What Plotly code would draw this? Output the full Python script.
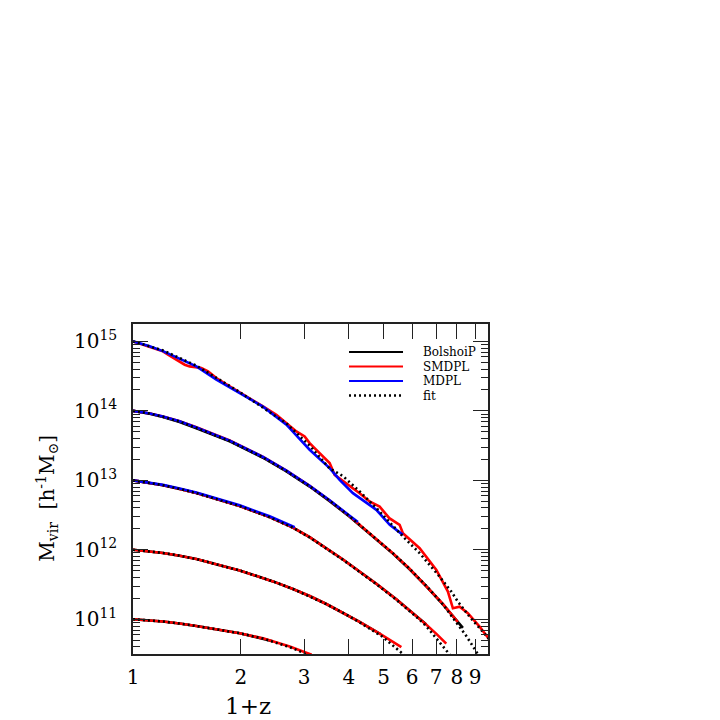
import plotly.graph_objects as go

# ---------------- data: (1+z) and log10(Mvir / h^-1 Msun) ----------------
# M0 = 1e15
top_mdpl_z1 = [1.0, 1.113, 1.212, 1.349, 1.502, 1.708, 1.984, 2.304, 2.678, 3.109, 3.535, 3.769, 4.105, 4.771, 5.2, 5.658]
top_mdpl_lm = [15.0, 14.93, 14.86, 14.75, 14.64, 14.45, 14.255, 14.06, 13.80, 13.44, 13.176, 13.007, 12.815, 12.575, 12.36, 12.215]
top_smdpl_z1 = [1.0, 1.137, 1.212, 1.252, 1.293, 1.349, 1.394, 1.439, 1.502, 1.551, 1.619, 1.708, 1.861, 2.026, 2.115,
                2.304, 2.511, 2.678, 2.855, 3.011, 3.109, 3.315, 3.535, 3.650, 3.936, 4.285, 4.567, 4.873, 5.185,
                5.541, 5.658, 6.300, 7.015, 7.554, 7.800, 8.144, 8.587, 9.258, 9.9]
top_smdpl_lm = [15.0, 14.905, 14.856, 14.808, 14.761, 14.712, 14.664, 14.640, 14.631, 14.617, 14.568, 14.473, 14.352,
                14.232, 14.184, 14.063, 13.944, 13.824, 13.703, 13.631, 13.536, 13.392, 13.248, 13.079, 12.960,
                12.815, 12.695, 12.622, 12.455, 12.359, 12.239, 12.023, 11.710, 11.398, 11.158, 11.182, 11.087,
                10.893, 10.70]
top_fit_z1 = [1.0, 1.212, 1.502, 1.984, 2.678, 3.109, 3.535, 3.851, 4.285, 4.771, 5.721, 6.300, 7.161, 7.720, 8.054, 8.683, 9.456, 9.9]
top_fit_lm = [15.0, 14.87, 14.65, 14.27, 13.82, 13.50, 13.17, 13.06, 12.84, 12.60, 12.167, 11.951, 11.614, 11.398, 11.254, 11.037, 10.821, 10.70]

# M0 = 1e14
m14_bolshoi_z1 = [1.0, 1.113, 1.212, 1.349, 1.502, 1.861, 2.304, 2.678, 3.109, 3.535, 4.019, 4.771, 5.306, 5.907, 6.577, 7.315, 7.800, 8.317]
m14_bolshoi_lm = [14.0, 13.96, 13.912, 13.84, 13.75, 13.56, 13.325, 13.128, 12.91, 12.70, 12.475, 12.155, 11.945, 11.72, 11.475, 11.215, 11.05, 10.875]
m14_smdpl_z1 = [1.0, 1.113, 1.212, 1.349, 1.502, 1.861, 2.304, 2.678, 3.109, 3.535, 4.019, 4.771, 5.306, 5.907, 6.577, 7.315, 8.05]
m14_smdpl_lm = [14.0, 13.962, 13.918, 13.852, 13.765, 13.575, 13.338, 13.14, 12.92, 12.71, 12.483, 12.16, 11.95, 11.727, 11.48, 11.221, 10.96]
m14_mdpl_z1 = [1.0, 1.113, 1.212, 1.349, 1.502, 1.861, 2.304, 2.678, 3.109, 3.535, 4.019, 4.24]
m14_mdpl_lm = [14.0, 13.962, 13.918, 13.85, 13.762, 13.572, 13.336, 13.138, 12.92, 12.712, 12.49, 12.40]
m14_fit_z1 = [1.0, 1.113, 1.212, 1.349, 1.502, 1.861, 2.304, 2.678, 3.109, 3.535, 4.019, 4.771, 5.306, 5.907, 6.577, 7.315, 7.972, 8.501, 9.024, 9.3]
m14_fit_lm = [14.0, 13.96, 13.914, 13.845, 13.755, 13.565, 13.33, 13.131, 12.914, 12.707, 12.481, 12.161, 11.951, 11.727, 11.48, 11.215, 10.96, 10.76, 10.55, 10.44]

# M0 = 1e13
m13_bolshoi_z1 = [1.0, 1.113, 1.212, 1.349, 1.502, 1.984, 2.404, 2.793, 3.109, 3.851, 4.771, 5.424, 5.907, 6.300, 6.577]
m13_bolshoi_lm = [13.0, 12.965, 12.93, 12.876, 12.816, 12.629, 12.47, 12.32, 12.181, 11.86, 11.511, 11.288, 11.132, 11.009, 10.923]
m13_smdpl_z1 = [1.0, 1.113, 1.212, 1.349, 1.502, 1.984, 2.404, 2.793, 3.109, 3.851, 4.771, 5.424, 5.907, 6.300, 6.577, 7.015, 7.476]
m13_smdpl_lm = [13.0, 12.965, 12.93, 12.876, 12.816, 12.629, 12.47, 12.32, 12.181, 11.86, 11.511, 11.288, 11.132, 11.009, 10.923, 10.789, 10.65]
m13_mdpl_z1 = [1.0, 1.113, 1.212, 1.349, 1.502, 1.984, 2.404, 2.824]
m13_mdpl_lm = [13.0, 12.967, 12.934, 12.882, 12.823, 12.64, 12.483, 12.325]
m13_fit_z1 = [1.0, 1.113, 1.212, 1.349, 1.502, 1.984, 2.404, 2.793, 3.109, 3.851, 4.771, 5.424, 5.907, 6.300, 6.577, 7.015, 7.554, 7.7]
m13_fit_lm = [13.0, 12.965, 12.93, 12.876, 12.816, 12.629, 12.468, 12.318, 12.178, 11.855, 11.505, 11.28, 11.12, 10.995, 10.90, 10.73, 10.52, 10.47]

# M0 = 1e12
m12_bolshoi_z1 = [1.0, 1.113, 1.212, 1.349, 1.502, 1.984, 2.457, 2.793, 3.109, 3.461, 3.851, 4.285, 4.9]
m12_bolshoi_lm = [12.0, 11.979, 11.955, 11.915, 11.866, 11.703, 11.545, 11.436, 11.334, 11.22, 11.097, 10.964, 10.787]
m12_smdpl_z1 = [1.0, 1.113, 1.212, 1.349, 1.502, 1.984, 2.457, 2.793, 3.109, 3.461, 3.851, 4.285, 4.9, 5.602]
m12_smdpl_lm = [12.0, 11.979, 11.955, 11.915, 11.866, 11.703, 11.545, 11.436, 11.334, 11.22, 11.097, 10.964, 10.787, 10.598]
m12_fit_z1 = [1.0, 1.113, 1.212, 1.349, 1.502, 1.984, 2.457, 2.793, 3.109, 3.461, 3.851, 4.285, 4.977, 5.602, 5.75]
m12_fit_lm = [12.0, 11.979, 11.955, 11.915, 11.866, 11.703, 11.545, 11.436, 11.332, 11.217, 11.092, 10.955, 10.745, 10.52, 10.47]

# M0 = 1e11
m11_bolshoi_z1 = [1.0, 1.113, 1.212, 1.349, 1.502, 1.984, 2.304, 2.45]
m11_bolshoi_lm = [11.0, 10.986, 10.968, 10.938, 10.903, 10.80, 10.725, 10.684]
m11_smdpl_z1 = [1.0, 1.113, 1.212, 1.349, 1.502, 1.984, 2.304, 2.735, 2.978, 3.15]
m11_smdpl_lm = [11.0, 10.986, 10.968, 10.938, 10.903, 10.80, 10.725, 10.609, 10.539, 10.488]
m11_fit_z1 = [1.0, 1.113, 1.212, 1.349, 1.502, 1.984, 2.304, 2.735, 2.978, 3.15]
m11_fit_lm = [11.0, 10.986, 10.968, 10.938, 10.903, 10.80, 10.722, 10.60, 10.52, 10.45]

legend_names = ["BolshoiP", "SMDPL", "MDPL", "fit"]
legend_colors = ["black", "#ff0000", "#0000ff", "black"]
legend_dashes = ["solid", "solid", "solid", "2px,3px"]
y_tick_exps = [11, 12, 13, 14, 15]
x_tick_vals = [1, 2, 3, 4, 5, 6, 7, 8, 9]

# ---------------- figure ----------------
FONT = "DejaVu Serif, Liberation Serif, serif"
fig = go.Figure()


def add(xs, lms, k):
    fig.add_trace(go.Scatter(
        x=xs, y=[10 ** v for v in lms], mode="lines", name=legend_names[k],
        legendgroup=legend_names[k], showlegend=False,
        line=dict(color=legend_colors[k], width=2.6, dash=legend_dashes[k]),
    ))


bolshoi = [(m14_bolshoi_z1, m14_bolshoi_lm), (m13_bolshoi_z1, m13_bolshoi_lm),
           (m12_bolshoi_z1, m12_bolshoi_lm), (m11_bolshoi_z1, m11_bolshoi_lm)]
smdpl = [(top_smdpl_z1, top_smdpl_lm), (m14_smdpl_z1, m14_smdpl_lm), (m13_smdpl_z1, m13_smdpl_lm),
         (m12_smdpl_z1, m12_smdpl_lm), (m11_smdpl_z1, m11_smdpl_lm)]
mdpl = [(top_mdpl_z1, top_mdpl_lm), (m14_mdpl_z1, m14_mdpl_lm), (m13_mdpl_z1, m13_mdpl_lm)]
fits = [(top_fit_z1, top_fit_lm), (m14_fit_z1, m14_fit_lm), (m13_fit_z1, m13_fit_lm),
        (m12_fit_z1, m12_fit_lm), (m11_fit_z1, m11_fit_lm)]

for k, group in enumerate([bolshoi, smdpl, mdpl, fits]):
    for xs, ls in group:
        add(xs, ls, k)

minor_y = [m * 10.0 ** e for e in range(10, 16) for m in range(2, 10)]

axis_common = dict(
    showline=True, linecolor="#222", linewidth=1.5, mirror="ticks",
    ticks="inside", tickcolor="#222", tickwidth=1.3, ticklen=15,
    showgrid=False, zeroline=False,
    tickfont=dict(family=FONT, size=20, color="black"),
)

fig.update_xaxes(
    type="log", range=[0, 0.99],
    tickmode="array", tickvals=x_tick_vals, ticktext=[str(v) for v in x_tick_vals],
    ticklabelstandoff=4, **axis_common,
)
fig.update_yaxes(
    type="log", range=[10.5, 15.25],
    tickmode="array", tickvals=[10.0 ** e for e in y_tick_exps],
    ticktext=["10<sup>%d</sup>" % e for e in y_tick_exps],
    ticklabelstandoff=10,
    minor=dict(tickmode="array", tickvals=minor_y, ticks="inside", ticklen=7,
               tickcolor="#222", tickwidth=1.2, showgrid=False),
    **axis_common,
)

fig.add_annotation(text="1+z", xref="paper", yref="paper", x=0.324, y=-0.158,
                   showarrow=False, font=dict(family=FONT, size=23, color="black"),
                   xanchor="center", yanchor="middle")
fig.add_annotation(text="M<sub>vir</sub>  [h<sup>-1</sup>M<sub>\u2299</sub>]",
                   xref="paper", yref="paper", x=-0.24, y=0.473, textangle=-90,
                   showarrow=False, font=dict(family=FONT, size=20, color="black"),
                   xanchor="center", yanchor="middle")

# legend (key lines + labels, inside the top-right of the frame)
legend_rows_y = [0.9152, 0.8712, 0.8273, 0.7833]
for k, name in enumerate(legend_names):
    fig.add_shape(type="line", xref="paper", yref="paper",
                  x0=0.6085, x1=0.7606, y0=legend_rows_y[k], y1=legend_rows_y[k],
                  line=dict(color=legend_colors[k], width=2.2 if k < 3 else 2.4,
                            dash=legend_dashes[k]))
    fig.add_annotation(text=name, xref="paper", yref="paper", x=0.811, y=legend_rows_y[k],
                       xanchor="left", yanchor="middle", showarrow=False,
                       font=dict(family=FONT, size=12, color="black"))

# The page body adds an 8px offset, so margins are shifted by 8px.
fig.update_layout(
    width=720, height=720, autosize=False,
    margin=dict(l=125, r=240, t=316, b=74),
    paper_bgcolor="white", plot_bgcolor="white",
    showlegend=False,
)

fig.write_html("out.html")
